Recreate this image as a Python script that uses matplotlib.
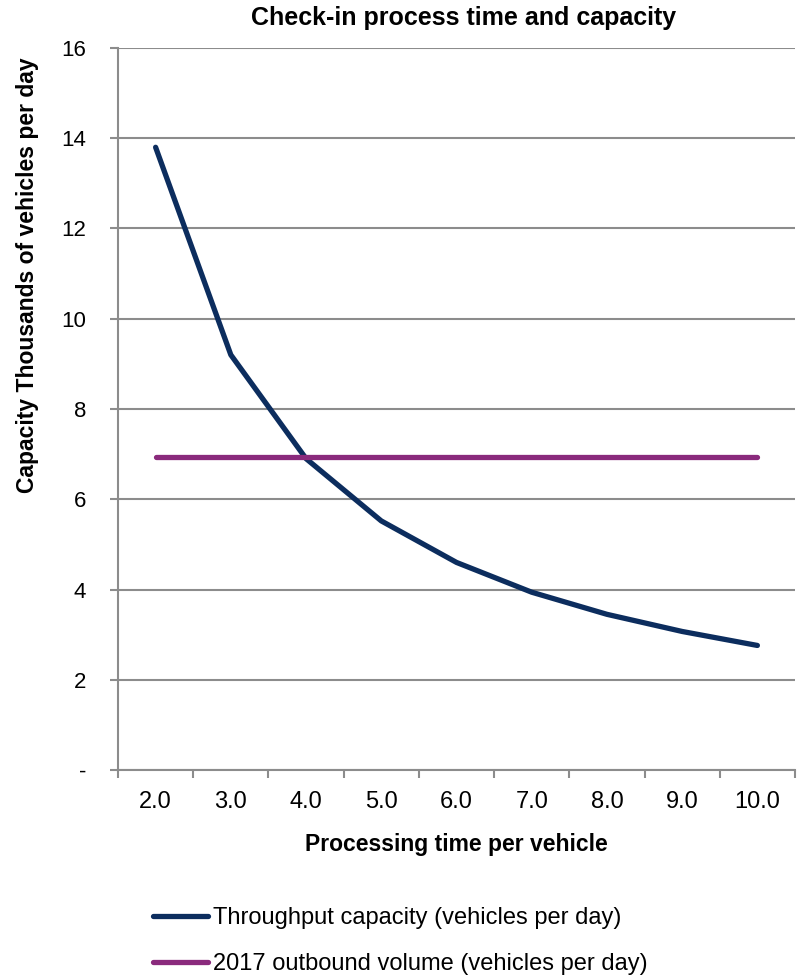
import numpy as np
import matplotlib.pyplot as plt

# processing time categories and series (thousands of vehicles per day)
categories = ["2.0", "3.0", "4.0", "5.0", "6.0", "7.0", "8.0", "9.0", "10.0"]
throughput = [13.8, 9.2, 6.9, 5.52, 4.6, 3.94, 3.45, 3.07, 2.76]
outbound_2017 = [6.94] * 9
ytick_labels = ["-", "2", "4", "6", "8", "10", "12", "14", "16"]

plt.rcParams['font.family'] = ['Liberation Sans', 'DejaVu Sans']
grey = '#8c8c8c'

fig = plt.figure(figsize=(8.01, 9.77), dpi=100)
ax = fig.add_axes([118 / 801, 1 - 770 / 977, 677 / 801, 722 / 977])

x = np.arange(len(categories))
ax.plot(x, throughput, color='#0c2d5e', lw=3.8, solid_capstyle='round',
        label="Throughput capacity (vehicles per day)")
ax.plot(x, outbound_2017, color='#8a2a7c', lw=3.8, solid_capstyle='round',
        label="2017 outbound volume (vehicles per day)")

ax.set_xlim(-0.5, len(categories) - 0.5)
ax.set_ylim(0, 16)
ax.set_yticks(range(0, 17, 2))
ax.set_yticklabels(ytick_labels)
ax.set_xticks(x)
ax.set_xticklabels(categories)
ax.set_xticks(np.arange(-0.5, len(categories)), minor=True)
ax.tick_params(axis='x', which='major', length=0, pad=15, labelsize=17)
ax.tick_params(axis='x', which='minor', length=6, color=grey, width=1.5)
ax.tick_params(axis='y', length=6, color=grey, width=1.5, pad=17, labelsize=16)
ax.grid(axis='y', color=grey, lw=1.5)
ax.set_axisbelow(True)
for s in ['top', 'right']:
    ax.spines[s].set_visible(False)
for s in ['left', 'bottom']:
    ax.spines[s].set_color(grey)
    ax.spines[s].set_linewidth(1.5)

fig.text(464 / 801, 1 - 18 / 977, "Check-in process time and capacity",
         fontsize=18, fontweight='bold', ha='center', va='center')
fig.text(456 / 801, 1 - 845 / 977, "Processing time per vehicle",
         fontsize=16.5, fontweight='bold', ha='center', va='center')
fig.text(28 / 801, 1 - 275 / 977, "Capacity Thousands of vehicles per day",
         fontsize=16.5, fontweight='bold', ha='center', va='center', rotation=90)

fig.legend(loc='center left', bbox_to_anchor=(153 / 801, 1 - 941 / 977), frameon=False,
           fontsize=17, handlelength=2.33, handletextpad=0.2, labelspacing=1.0,
           borderpad=0, borderaxespad=0)

fig.savefig("out.png", dpi=100)
